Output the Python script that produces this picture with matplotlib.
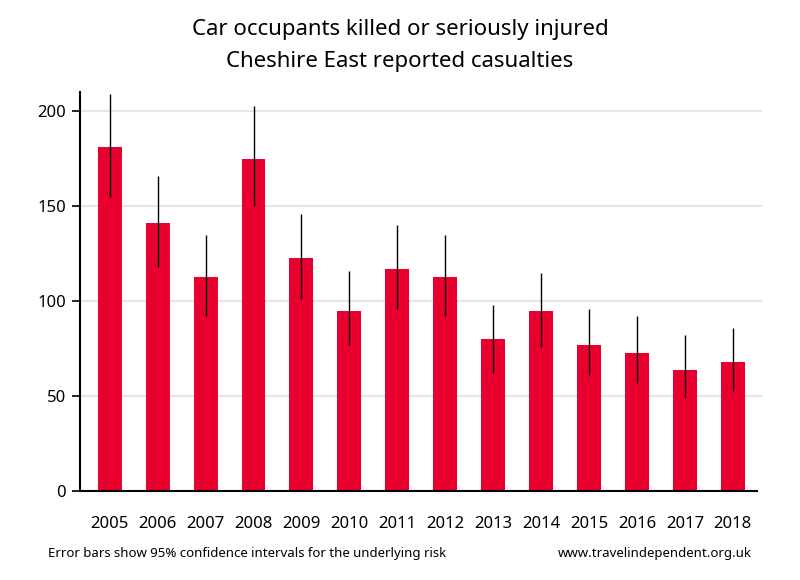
import numpy as np
import matplotlib.pyplot as plt

years = ["2005", "2006", "2007", "2008", "2009", "2010", "2011",
         "2012", "2013", "2014", "2015", "2016", "2017", "2018"]
casualties = [181, 141, 113, 175, 123, 95, 117, 113, 80, 95, 77, 73, 64, 68]
ci_low = [155, 118, 92, 150, 101, 77, 96, 92, 62, 76, 61, 57, 49, 53]
ci_high = [209, 166, 135, 203, 146, 116, 140, 135, 98, 115, 96, 92, 82, 86]

plt.rcParams['font.family'] = ['Noto Sans', 'DejaVu Sans']

fig = plt.figure(figsize=(8, 5.8), dpi=100)
ax = fig.add_axes([0.1, 0.153, 0.846, 0.688])

x = np.arange(len(years))
ax.bar(x, casualties, width=0.5, color="#e8002f", zorder=2)
ax.vlines(x, ci_low, ci_high, color="black", linewidth=1, zorder=3)

ax.set_xlim(-0.62, 13.5)
ax.set_ylim(0, 210)
ax.set_yticks([0, 50, 100, 150, 200])
ax.set_xticks(x)
ax.set_xticklabels(years)
ax.tick_params(axis="x", length=0, pad=18, labelsize=12)
ax.tick_params(axis="y", length=6, width=1.2, labelsize=12, pad=4)

# light horizontal grid
for g in [50, 100, 150, 200]:
    ax.axhline(g, xmin=0, xmax=1.006, color="#e6e6e6", linewidth=1.6, zorder=1, clip_on=False)

for s in ["top", "right"]:
    ax.spines[s].set_visible(False)
ax.spines["left"].set_linewidth(1.5)
ax.spines["bottom"].set_linewidth(1.5)

fig.text(0.5, 0.949, "Car occupants killed or seriously injured",
         ha="center", va="center", fontsize=16)
fig.text(0.5, 0.894, "Cheshire East reported casualties",
         ha="center", va="center", fontsize=16)

fig.text(0.06, 0.046, "Error bars show 95% confidence intervals for the underlying risk",
         ha="left", va="center", fontsize=9.5)
fig.text(0.94, 0.046, "www.travelindependent.org.uk",
         ha="right", va="center", fontsize=9.5)

fig.savefig("out.png", dpi=100)
